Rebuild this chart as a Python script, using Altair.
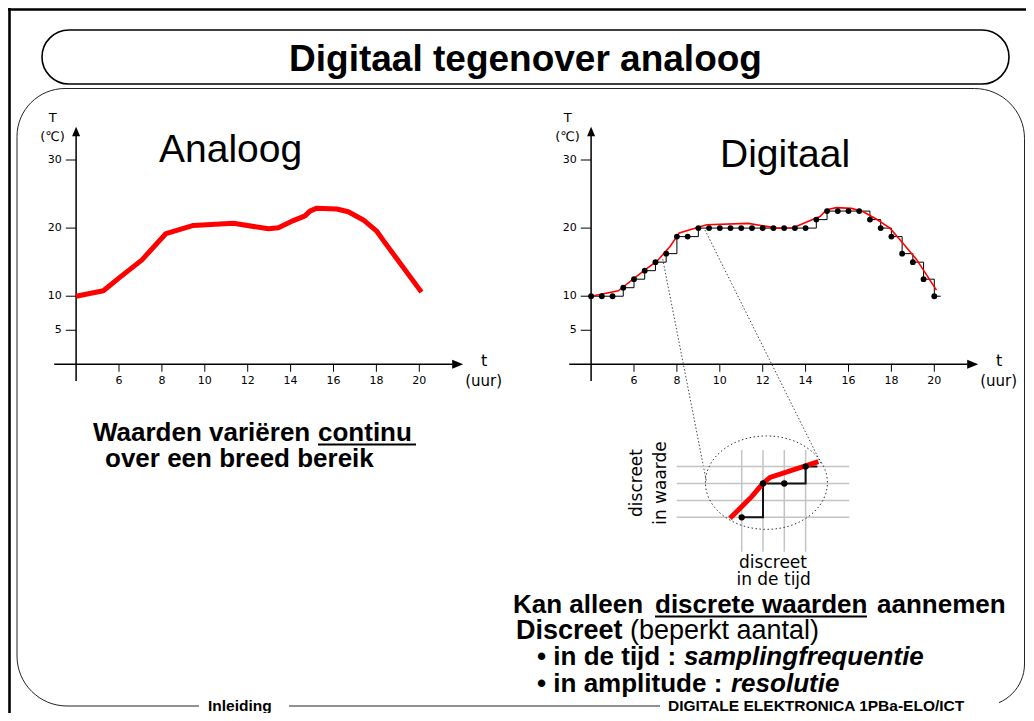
import altair as alt
import pandas as pd

# ---------------- data ----------------
# analoog: continuous temperature curve (t in uur, T in graden C)
analog_t = [4.0, 5.27, 6.05, 7.06, 8.19, 9.47, 11.33, 12.96, 13.43, 14.13, 14.67,
            14.9, 15.2, 16.15, 16.69, 17.39, 18.0, 18.32, 20.1]
analog_T = [10.0, 10.8, 12.8, 15.3, 19.2, 20.4, 20.7, 19.9, 20.05, 21.1, 21.8,
            22.5, 22.9, 22.8, 22.4, 21.2, 19.6, 18.2, 10.6]

# digitaal: thin red original curve
digital_t = [4.0, 5.27, 6.52, 7.06, 7.68, 8.11, 9.39, 11.33, 12.65, 13.43, 14.05,
             14.67, 14.98, 15.44, 16.14, 16.69, 17.31, 17.93, 18.4, 19.17, 20.1]
digital_T = [10.0, 10.8, 13.9, 15.1, 17.3, 19.3, 20.5, 20.7, 20.0, 20.05, 20.9,
             21.7, 22.7, 23.0, 22.9, 22.4, 21.3, 20.0, 18.3, 15.4, 10.9]

# samples every half hour, quantised in steps of 1.25 graden
sample_t = [4, 4.5, 5, 5.5, 6, 6.5, 7, 7.5, 8, 8.5, 9, 9.5, 10, 10.5, 11, 11.5,
            12, 12.5, 13, 13.5, 14, 14.5, 15, 15.5, 16, 16.5, 17, 17.5, 18, 18.5,
            19, 19.5, 20]
sample_T = [10, 10, 10, 11.25, 12.5, 13.75, 15, 16.25, 18.75, 18.75, 20, 20, 20,
            20, 20, 20, 20, 20, 20, 20, 20, 21.25, 22.5, 22.5, 22.5, 22.5, 21.25,
            20, 18.75, 16.25, 15, 12.5, 10]
step_tail_t = 20.3

x_ticks = [6, 8, 10, 12, 14, 16, 18, 20]
x_tick_labels = ["6", "8", "10", "12", "14", "16", "18", "20"]
y_ticks = [5, 10, 20, 30]
y_tick_labels = ["5", "10", "20", "30"]

# zoomed inset (sample index, quantisation level)
inset_red_i = [-0.55, 0.47, 0.99, 1.33, 3.6]
inset_red_v = [-0.06, 1.22, 2.0, 2.36, 3.3]
inset_step_i = [0, 1, 2, 3, 3.55]
inset_step_v = [0, 2, 2, 3, 3]
inset_dot_i = [0, 1, 2, 3]
inset_dot_v = [0, 2, 2, 3]
inset_grid = [0, 1, 2, 3]

# texts
title_text = "Digitaal tegenover analoog"
label_analog = "Analoog"
label_digital = "Digitaal"
footer_left = "Inleiding"
footer_right = "DIGITALE ELEKTRONICA 1PBa-ELO/ICT"

# ---------------- layout ----------------
W, H = 1018, 705
YDOM = [-51.20, 52.32]
LEFT_XDOM = [0.825, 48.284]
RIGHT_XDOM = [-23.184, 24.275]
INSET_XDOM = [-34.446, 13.347]
INSET_YDOM = [-11.58, 30.136]

PX = alt.Scale(domain=[8, 1026], nice=False, zero=False)
PY = alt.Scale(domain=[8, 713], nice=False, zero=False, reverse=True)


def XY(xs, ys):
    return dict(x=alt.X("x:Q", scale=xs, axis=None),
                y=alt.Y("y:Q", scale=ys, axis=None))


def rules(df, xs, ys, **mk):
    return alt.Chart(pd.DataFrame(df)).mark_rule(**mk).encode(
        **XY(xs, ys), x2="x2:Q", y2="y2:Q")


def texts(items, xs, ys, **mk):
    df = pd.DataFrame(items, columns=["text", "x", "y"])
    return alt.Chart(df).mark_text(**mk).encode(**XY(xs, ys), text="text:N")


ARROW_R = "M 1 0 L -1 -0.82 L -1 0.82 Z"
ARROW_U = "M 0 -1 L -0.85 1 L 0.85 1 Z"


def temp_axes(xs, ys):
    n = len(x_ticks)
    m = len(y_ticks)
    axis_lines = rules({"x": [2.98, 4], "y": [0, -2.45], "x2": [21.55, 4], "y2": [0, 33.9]},
                       xs, ys, color="black", strokeWidth=1.5)
    xt = rules({"x": x_ticks, "x2": x_ticks, "y": [0] * n, "y2": [-1.09] * n},
               xs, ys, color="black", strokeWidth=1)
    yt = rules({"x": [3.52] * m, "x2": [4] * m, "y": y_ticks, "y2": y_ticks},
               xs, ys, color="black", strokeWidth=1)
    arr_r = alt.Chart(pd.DataFrame({"x": [21.79], "y": [0]})).mark_point(
        shape=ARROW_R, size=121, filled=True, color="black", opacity=1,
        strokeWidth=0).encode(**XY(xs, ys))
    arr_u = alt.Chart(pd.DataFrame({"x": [4], "y": [34.18]})).mark_point(
        shape=ARROW_U, size=90, filled=True, color="black", opacity=1,
        strokeWidth=0).encode(**XY(xs, ys))
    xl = texts([(l, t, -2.39) for l, t in zip(x_tick_labels, x_ticks)], xs, ys,
               font="DejaVu Sans", fontSize=11, align="center", baseline="middle",
               color="black")
    yl = texts([(l, 3.33, v) for l, v in zip(y_tick_labels, y_ticks)], xs, ys,
               font="DejaVu Sans", fontSize=11, align="right", baseline="middle",
               color="black")
    names = texts([("T", 2.91, 36.2), ("(℃)", 2.9, 33.4)], xs, ys,
                  font="DejaVu Sans", fontSize=13, align="center", baseline="middle",
                  color="black")
    tname = texts([("t", 23.02, 0.5)], xs, ys, font="DejaVu Sans", fontSize=16,
                  align="center", baseline="middle", color="black")
    uur = texts([("(uur)", 23.0, -2.4)], xs, ys, font="DejaVu Sans", fontSize=15,
                align="center", baseline="middle", color="black")
    return [axis_lines, xt, yt, arr_r, arr_u, xl, yl, names, tname, uur]


# ---------------- left: analoog ----------------
LXS = alt.Scale(domain=LEFT_XDOM, nice=False, zero=False)
LYS = alt.Scale(domain=YDOM, nice=False, zero=False)
analog_line = alt.Chart(pd.DataFrame({"x": analog_t, "y": analog_T})).mark_line(
    color="#ff0000", strokeWidth=5, strokeJoin="round").encode(**XY(LXS, LYS))
left = alt.layer(*temp_axes(LXS, LYS), analog_line)

# ---------------- right: digitaal ----------------
RXS = alt.Scale(domain=RIGHT_XDOM, nice=False, zero=False)
RYS = alt.Scale(domain=YDOM, nice=False, zero=False)
step_df = pd.DataFrame({"x": sample_t + [step_tail_t], "y": sample_T + [sample_T[-1]]})
step_line = alt.Chart(step_df).mark_line(
    interpolate="step-after", color="black", strokeWidth=1).encode(**XY(RXS, RYS))
red_thin = alt.Chart(pd.DataFrame({"x": digital_t, "y": digital_T})).mark_line(
    color="#ff0000", strokeWidth=1.6).encode(**XY(RXS, RYS))
dots = alt.Chart(pd.DataFrame({"x": sample_t, "y": sample_T})).mark_circle(
    color="black", size=34, opacity=1).encode(**XY(RXS, RYS))
connectors = rules({"x": [7.34, 9.31], "y": [15.44, 19.72],
                    "x2": [9.38, 14.76], "y2": [-17.28, -14.79]},
                   RXS, RYS, color="#333333", strokeWidth=0.9, strokeDash=[1.5, 2])
right = alt.layer(*temp_axes(RXS, RYS), connectors, step_line, red_thin, dots)

# ---------------- inset ----------------
IXS = alt.Scale(domain=INSET_XDOM, nice=False, zero=False)
IYS = alt.Scale(domain=INSET_YDOM, nice=False, zero=False)
g = len(inset_grid)
grid_v = rules({"x": inset_grid, "x2": inset_grid, "y": [-2.04] * g, "y2": [3.98] * g},
               IXS, IYS, color="#c4c4c4", strokeWidth=1.5)
grid_h = rules({"x": [-3.05] * g, "x2": [5.05] * g, "y": inset_grid, "y2": inset_grid},
               IXS, IYS, color="#c4c4c4", strokeWidth=1.5)
ellipse = alt.Chart(pd.DataFrame({"x": [1.16], "y": [2.05]})).mark_point(
    shape="M -1 0 A 1 0.766 0 1 1 1 0 A 1 0.766 0 1 1 -1 0 Z", size=14884,
    filled=False, color="#333333", strokeWidth=1, strokeDash=[1.5, 2.5],
    opacity=1).encode(**XY(IXS, IYS))
inset_step = alt.Chart(pd.DataFrame({"x": inset_step_i, "y": inset_step_v})).mark_line(
    interpolate="step-after", color="#111111", strokeWidth=2).encode(**XY(IXS, IYS))
inset_red = alt.Chart(pd.DataFrame({"x": inset_red_i, "y": inset_red_v})).mark_line(
    color="#ff0000", strokeWidth=5).encode(**XY(IXS, IYS))
inset_dots = alt.Chart(pd.DataFrame({"x": inset_dot_i, "y": inset_dot_v})).mark_circle(
    color="black", size=40, opacity=1).encode(**XY(IXS, IYS))
inset_vlabels = texts([("discreet", -4.93, 2.03), ("in waarde", -3.79, 2.03)], IXS, IYS,
                      font="DejaVu Sans", fontSize=17, angle=270, align="center",
                      baseline="middle", color="black")
inset_hlabels = texts([("discreet", 1.47, -2.68), ("in de tijd", 1.5, -3.72)], IXS, IYS,
                      font="DejaVu Sans", fontSize=17, align="center",
                      baseline="middle", color="black")
inset = alt.layer(grid_v, grid_h, ellipse, inset_step, inset_red, inset_dots,
                  inset_vlabels, inset_hlabels)

# ---------------- page decoration and text ----------------
border = rules({"x": [8, 9.5], "x2": [1026, 9.5], "y": [9.5, 8], "y2": [9.5, 713]},
               PX, PY, color="black", strokeWidth=2.6)
title_box = alt.Chart(pd.DataFrame({"x": [42], "x2": [1009], "y": [30], "y2": [84]})).mark_rect(
    cornerRadius=27, fill="white", stroke="black", strokeWidth=1.6).encode(
    **XY(PX, PY), x2="x2:Q", y2="y2:Q")
body_box = alt.Chart(pd.DataFrame({"x": [17], "x2": [1024.5], "y": [88.5], "y2": [706]})).mark_rect(
    cornerRadiusTopLeft=48, cornerRadiusTopRight=50, cornerRadiusBottomLeft=50,
    cornerRadiusBottomRight=42, fill="white", stroke="#222222", strokeWidth=1).encode(
    **XY(PX, PY), x2="x2:Q", y2="y2:Q")
gaps = alt.Chart(pd.DataFrame({"x": [199, 660], "x2": [289, 999], "y": [700, 700], "y2": [713, 713]})).mark_rect(
    fill="white", strokeWidth=0).encode(**XY(PX, PY), x2="x2:Q", y2="y2:Q")
underlines = rules({"x": [318, 655], "x2": [416, 867], "y": [444.5, 616.5], "y2": [444.5, 616.5]},
                   PX, PY, color="black", strokeWidth=2)

title = texts([(title_text, 525.5, 70.5)], PX, PY, font="Liberation Sans", fontSize=37,
              fontWeight="bold", align="center", baseline="alphabetic", color="black")
big = texts([(label_analog, 159, 161.7), (label_digital, 720, 166.7)], PX, PY,
            font="Liberation Sans", fontSize=39, align="left", baseline="alphabetic",
            color="black")
body_bold = texts([
    ("Waarden variëren", 93, 441), ("continu", 318, 441),
    ("over een breed bereik", 105, 467),
    ("Kan alleen", 513, 613), ("discrete waarden", 655, 613), ("aannemen", 877, 613),
], PX, PY, font="Liberation Sans", fontSize=26, fontWeight="bold", align="left",
    baseline="alphabetic", color="black")
line2_bold = texts([("Discreet", 516, 639)], PX, PY, font="Liberation Sans",
                   fontSize=27, fontWeight="bold", align="left",
                   baseline="alphabetic", color="black")
line2_norm = texts([("(beperkt aantal)", 630, 639)], PX, PY, font="Liberation Sans",
                   fontSize=27, align="left", baseline="alphabetic", color="black")
bullets = texts([("• in de tijd :", 537, 665), ("• in amplitude :", 537, 692)], PX, PY,
                font="Liberation Sans", fontSize=26, fontWeight="bold", align="left",
                baseline="alphabetic", color="black")
bullets_ital = texts([("samplingfrequentie", 684, 665), ("resolutie", 731, 692)], PX, PY,
                     font="Liberation Sans", fontSize=26, fontWeight="bold",
                     fontStyle="italic", align="left", baseline="alphabetic",
                     color="black")
footer = texts([(footer_left, 208, 711), (footer_right, 668, 711)], PX, PY,
               font="Liberation Sans", fontSize=15.5, fontWeight="bold", align="left",
               baseline="alphabetic", color="black")

page = alt.layer(border, body_box, title_box, gaps, underlines, title, big,
                 body_bold, line2_bold, line2_norm, bullets, bullets_ital, footer)

chart = alt.layer(page, left, right, inset).resolve_scale(
    x="independent", y="independent"
).properties(
    width=W, height=H, padding=0, autosize=alt.AutoSizeParams(type="none"),
    background="white"
).configure_view(stroke=None)

chart.save("out.html", embed_options={"renderer": "svg", "actions": False})
